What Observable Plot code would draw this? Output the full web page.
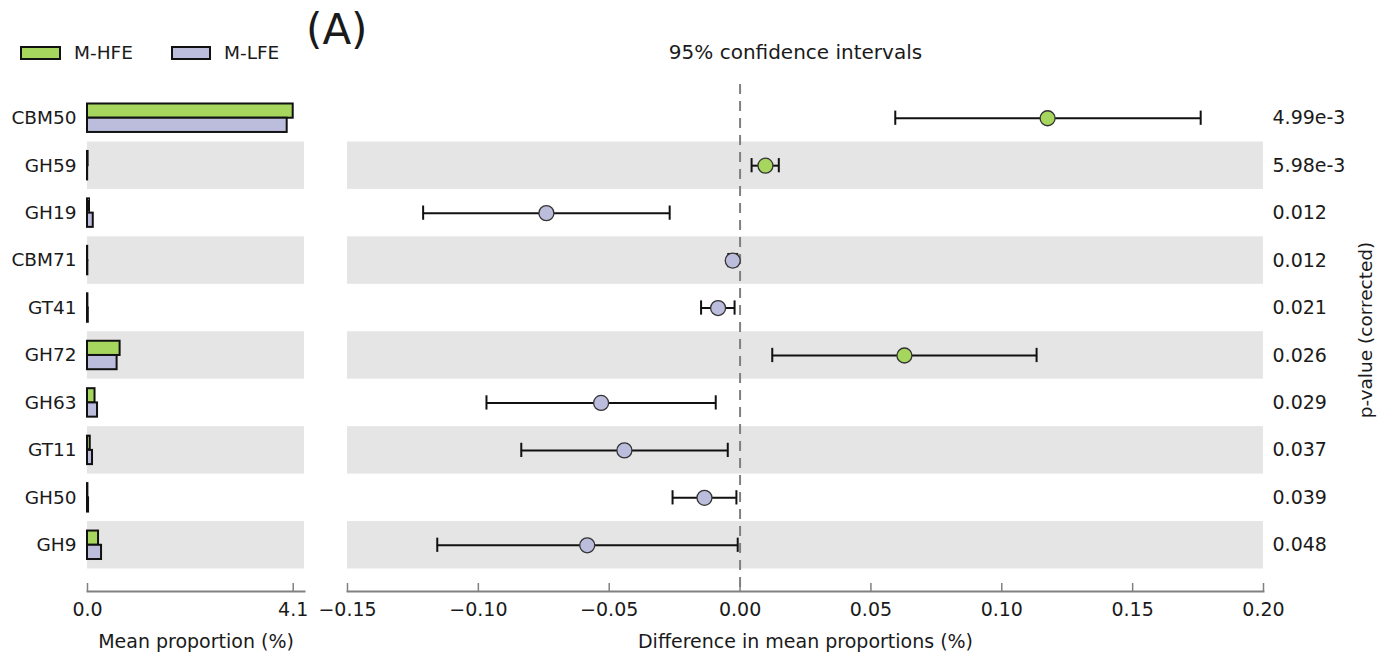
<!DOCTYPE html>
<html><head><meta charset="utf-8">
<script src="https://cdn.jsdelivr.net/npm/d3@7"></script>
<script src="https://cdn.jsdelivr.net/npm/@observablehq/plot@0.6"></script>
<style>
html,body{margin:0;padding:0;background:#fff;}
#root{position:relative;width:1392px;height:659px;font-family:"DejaVu Sans",sans-serif;color:#1a1a1a;overflow:hidden;background:#fff}
#left,#right{position:absolute;top:0}
#left{left:0} #right{left:320px}
.lab{position:absolute;white-space:nowrap;line-height:1}
.sw{position:absolute;box-sizing:border-box;height:14px;border:2px solid #111}
</style></head><body><div id="root">
<div id="left"></div><div id="right"></div>
</div>
<script>
// ---- data ----
const features = ["CBM50","GH59","GH19","CBM71","GT41","GH72","GH63","GT11","GH50","GH9"];
const meanHFE  = [4.10, 0.012, 0.040, 0.004, 0.008, 0.65, 0.15, 0.055, 0.008, 0.22];
const meanLFE  = [3.98, 0.003, 0.115, 0.007, 0.016, 0.59, 0.20, 0.100, 0.021, 0.28];
const diffMean = [0.1175, 0.0097, -0.0740, -0.0028, -0.0084, 0.0628, -0.0531, -0.0442, -0.0136, -0.0584];
const ciLow    = [0.0593, 0.0044, -0.1211, -0.0045, -0.0149, 0.0123, -0.0969, -0.0836, -0.0258, -0.1157];
const ciHigh   = [0.1760, 0.0148, -0.0269, -0.0011, -0.0021, 0.1133, -0.0093, -0.0047, -0.0014, -0.0009];
const pValues  = ["4.99e-3","5.98e-3","0.012","0.012","0.021","0.026","0.029","0.037","0.039","0.048"];
const groups   = ["M-HFE","M-LFE"];
const leftTicks  = [0, 4.1];
const rightTicks = [-0.15,-0.10,-0.05,0.00,0.05,0.10,0.15,0.20];

const GREEN = "#a6d65e", PURPLE = "#bcbddc", SHADE = "#e5e5e5", AXIS = "#808080", INK = "#111";

const rows = features.map((f,i)=>({f,i,h:meanHFE[i],l:meanLFE[i],d:diffMean[i],lo:ciLow[i],hi:ciHigh[i],p:pValues[i]}));
const shaded = rows.filter(r=>r.i%2===1);

const common = {
  height:659, marginTop:84, marginBottom:68,
  y:{domain:[0,rows.length], range:[94,568.5], axis:null},
  color:{type:"identity"},
  style:{fontFamily:'"DejaVu Sans", sans-serif', fontSize:"19px", color:"#1a1a1a", background:"transparent", overflow:"visible"}
};

const left = Plot.plot({
  ...common, width:320, marginLeft:87, marginRight:16,
  x:{domain:[0,4.325]},
  marks:[
    Plot.rect(shaded,{y1:"i", y2:d=>d.i+1, fill:SHADE}),
    Plot.rect(rows,{x1:()=>0, x2:"h", y1:d=>d.i+0.2, y2:d=>d.i+0.5, fill:GREEN, stroke:INK, strokeWidth:2}),
    Plot.rect(rows,{x1:()=>0, x2:"l", y1:d=>d.i+0.5, y2:d=>d.i+0.8, fill:PURPLE, stroke:INK, strokeWidth:2}),
    Plot.text(rows,{y:d=>d.i+0.5, text:"f", frameAnchor:"left", textAnchor:"end", dx:-11, fontSize:18.5}),
    Plot.frame({anchor:"bottom", stroke:AXIS, strokeWidth:2}),
    Plot.axisX({ticks:leftTicks, tickSize:8, dy:-8, tickFormat:()=>"", stroke:AXIS, strokeWidth:1.5, label:null}),
    Plot.axisX({ticks:leftTicks, tickSize:0, tickPadding:11, tickFormat:d3.format(".1f"), label:null, fontSize:19}),
    Plot.text(["Mean proportion (%)"],{frameAnchor:"bottom", lineAnchor:"bottom", dy:56, fontSize:19})
  ]
});
document.getElementById("left").appendChild(left);

const right = Plot.plot({
  ...common, width:1072, marginLeft:27, marginRight:129,
  x:{domain:[-0.15,0.20]},
  marks:[
    Plot.rect(shaded,{y1:"i", y2:d=>d.i+1, fill:SHADE}),
    Plot.ruleX([0],{stroke:AXIS, strokeWidth:2, strokeDasharray:"10,7"}),
    Plot.ruleY(rows,{y:d=>d.i+0.5, x1:"lo", x2:"hi", stroke:INK, strokeWidth:2}),
    Plot.ruleX(rows,{x:"lo", y1:d=>d.i+0.35, y2:d=>d.i+0.65, stroke:INK, strokeWidth:2}),
    Plot.ruleX(rows,{x:"hi", y1:d=>d.i+0.35, y2:d=>d.i+0.65, stroke:INK, strokeWidth:2}),
    Plot.dot(rows,{x:"d", y:d=>d.i+0.5, r:7.5, fill:d=>d.d>0?GREEN:PURPLE, stroke:"#333", strokeWidth:1.3}),
    Plot.text(rows,{y:d=>d.i+0.5, text:"p", frameAnchor:"right", textAnchor:"start", dx:9, fontSize:19}),
    Plot.frame({anchor:"bottom", stroke:AXIS, strokeWidth:2}),
    Plot.axisX({ticks:rightTicks, tickSize:8, dy:-8, tickFormat:()=>"", stroke:AXIS, strokeWidth:1.5, label:null}),
    Plot.axisX({ticks:rightTicks, tickSize:0, tickPadding:11, tickFormat:d3.format(".2f"), label:null, fontSize:19}),
    Plot.text(["Difference in mean proportions (%)"],{frameAnchor:"bottom", lineAnchor:"bottom", dy:56, fontSize:19}),
    Plot.text(["95% confidence intervals"],{frameAnchor:"top", lineAnchor:"bottom", dy:-26, dx:-10, fontSize:20})
  ]
});
document.getElementById("right").appendChild(right);

// legend + panel letters
const root = document.getElementById("root");
function lab(txt, style){const d=document.createElement("div");d.className="lab";d.textContent=txt;Object.assign(d.style,style);root.appendChild(d);return d;}
const sw1=document.createElement("div");sw1.className="sw";Object.assign(sw1.style,{left:"20px",top:"46px",width:"41px",background:GREEN});root.appendChild(sw1);
const sw2=document.createElement("div");sw2.className="sw";Object.assign(sw2.style,{left:"171px",top:"46px",width:"40px",background:PURPLE});root.appendChild(sw2);
lab(groups[0],{left:"74px",top:"44px",fontSize:"18.5px"});
lab(groups[1],{left:"224px",top:"44px",fontSize:"18.5px"});
lab("(A)",{left:"306px",top:"9px",fontSize:"42px"});
lab("p-value (corrected)",{left:"1366px",top:"330px",fontSize:"18.5px",transform:"translate(-50%,-50%) rotate(-90deg)"});
</script>
</body></html>
